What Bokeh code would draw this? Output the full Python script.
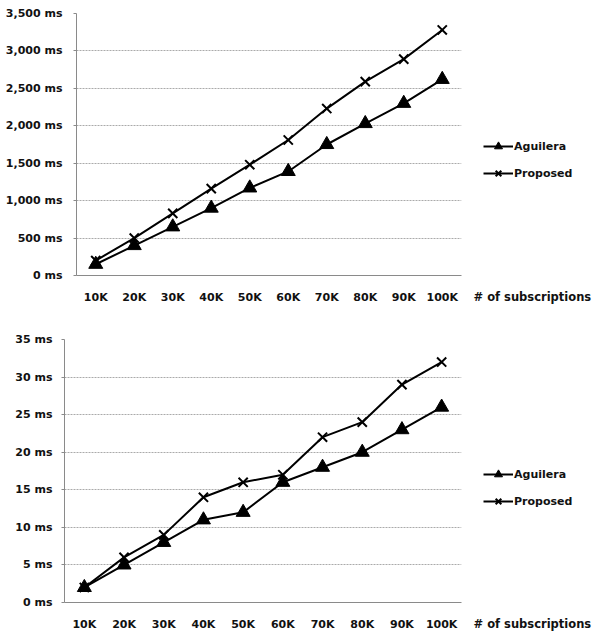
from bokeh.plotting import figure
from bokeh.models import FixedTicker, Legend, LegendItem, Title
from bokeh.embed import file_html
from bokeh.resources import INLINE

categories = ["10K", "20K", "30K", "40K", "50K", "60K", "70K", "80K", "90K", "100K"]

top_aguilera = [150, 400, 650, 900, 1170, 1390, 1750, 2030, 2300, 2620]
top_proposed = [200, 500, 830, 1160, 1480, 1810, 2230, 2590, 2890, 3280]
top_ticks = [0, 500, 1000, 1500, 2000, 2500, 3000, 3500]
top_tick_labels = ["0 ms", "500 ms", "1,000 ms", "1,500 ms", "2,000 ms", "2,500 ms", "3,000 ms", "3,500 ms"]

bot_aguilera = [2, 5, 8, 11, 12, 16, 18, 20, 23, 26]
bot_proposed = [2, 6, 9, 14, 16, 17, 22, 24, 29, 32]
bot_ticks = [0, 5, 10, 15, 20, 25, 30, 35]
bot_tick_labels = ["0 ms", "5 ms", "10 ms", "15 ms", "20 ms", "25 ms", "30 ms", "35 ms"]

x_title = "# of subscriptions"
series_names = ["Aguilera", "Proposed"]

FONT = "DejaVu Sans"
TXT = "#111111"


def make_chart(agu, pro, ticks, tick_labels, ymax, fw, fh, ml, mr, mt, mb, ystand, legend_xy):
    p = figure(x_range=categories, y_range=(0, ymax), frame_width=fw, frame_height=fh,
               min_border_left=ml, min_border_right=mr, min_border_top=mt, min_border_bottom=mb,
               output_backend="svg", toolbar_location=None)
    p.outline_line_color = None
    p.xgrid.grid_line_color = None
    p.ygrid.grid_line_color = "#aaaaaa"
    p.ygrid.grid_line_dash = "2 1"
    p.ygrid.grid_line_width = 1
    p.yaxis.ticker = FixedTicker(ticks=ticks)
    p.yaxis.major_label_overrides = {t: l for t, l in zip(ticks, tick_labels)}
    for ax in (p.xaxis[0], p.yaxis[0]):
        ax.axis_line_color = "#8a8a8a"
        ax.major_tick_line_color = "#8a8a8a"
        ax.minor_tick_line_color = None
        ax.major_tick_out = 3
        ax.major_tick_in = 0
        ax.major_label_text_font = FONT
        ax.major_label_text_font_size = "11px"
        ax.major_label_text_font_style = "bold"
        ax.major_label_text_color = TXT
    p.xaxis.major_tick_line_color = None
    p.yaxis.major_label_standoff = ystand
    p.xaxis.major_label_standoff = 12

    r1 = p.line(categories, agu, line_color="black", line_width=2)
    m1 = p.scatter(categories, agu, marker="triangle", size=14, fill_color="black", line_color="black")
    r2 = p.line(categories, pro, line_color="black", line_width=2)
    m2 = p.scatter(categories, pro, marker="x", size=13, line_color="black", line_width=2)

    legend = Legend(items=[LegendItem(label=series_names[0], renderers=[r1, m1]),
                           LegendItem(label=series_names[1], renderers=[r2, m2])],
                    location=legend_xy, padding=0, margin=0, spacing=7,
                    label_height=20, glyph_height=20, glyph_width=30,
                    label_standoff=1,
                    border_line_color=None, background_fill_alpha=0,
                    label_text_font=FONT, label_text_font_size="11px",
                    label_text_font_style="bold", label_text_color=TXT)
    p.add_layout(legend, "right")

    t = Title(text=x_title, align="left", offset=fw + 12, vertical_align="top",
              standoff=-34, text_font=FONT, text_font_size="11.5px",
              text_font_style="bold", text_color=TXT)
    p.add_layout(t, "below")
    return p


p1 = make_chart(top_aguilera, top_proposed, top_ticks, top_tick_labels, 3500,
                385, 262, 76, 129, 13, 45, 11, (22, 92))
p2 = make_chart(bot_aguilera, bot_proposed, bot_ticks, bot_tick_labels, 35,
                397, 263, 64, 129, 19, 31, 9, (22, 91))

open("out.html", "w").write(file_html([p1, p2], INLINE))
